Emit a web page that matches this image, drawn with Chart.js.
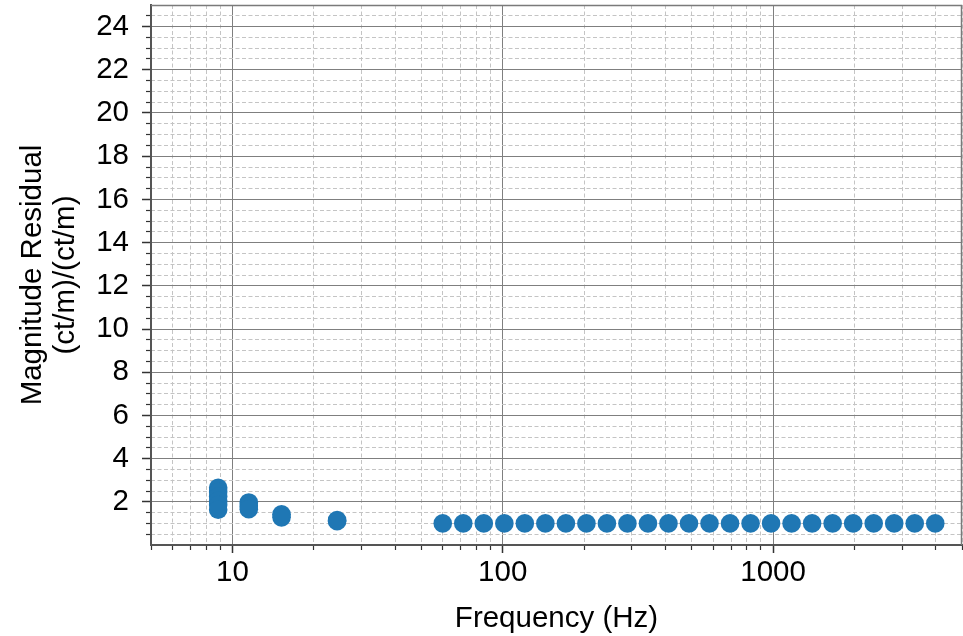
<!DOCTYPE html>
<html><head><meta charset="utf-8">
<script src="https://cdn.jsdelivr.net/npm/chart.js@4.4.1/dist/chart.umd.min.js"></script>
<style>html,body{margin:0;padding:0;background:#fff;overflow:hidden}</style>
</head><body>
<canvas id="c" width="963" height="636"></canvas>
<script>
// ---- data ----
const frequencies = [
  8.86, 8.86, 8.86, 8.86, 8.86, 8.86,
  11.5, 11.5, 11.5,
  15.2, 15.2,
  24.4, 24.4,
  60.0, 71.46, 85.11, 101.4, 120.7, 143.8, 171.3, 204.0, 242.9, 289.3, 344.6, 410.4,
  488.8, 582.1, 693.3, 825.7, 983.4, 1171.2, 1394.9, 1661.4, 1978.7, 2356.6, 2806.7, 3342.8, 3981.3
];
const residuals = [
  2.65, 2.45, 2.25, 2.05, 1.85, 1.63,
  1.97, 1.80, 1.66,
  1.42, 1.28,
  1.15, 1.10,
  1.0, 1.0, 1.0, 1.0, 1.0, 1.0, 1.0, 1.0, 1.0, 1.0, 1.0, 1.0,
  1.0, 1.0, 1.0, 1.0, 1.0, 1.0, 1.0, 1.0, 1.0, 1.0, 1.0, 1.0, 1.0
];
const xMajorTicks = [10, 100, 1000];
const xMinorTicks = [5, 6, 7, 8, 9, 20, 30, 40, 50, 60, 70, 80, 90,
  200, 300, 400, 500, 600, 700, 800, 900, 2000, 3000, 4000, 5000];
const yMajorTicks = [2, 4, 6, 8, 10, 12, 14, 16, 18, 20, 22, 24];
const yMinorTicks = [0.5, 1, 1.5, 2.5, 3, 3.5, 4.5, 5, 5.5, 6.5, 7, 7.5, 8.5, 9, 9.5,
  10.5, 11, 11.5, 12.5, 13, 13.5, 14.5, 15, 15.5, 16.5, 17, 17.5, 18.5, 19, 19.5,
  20.5, 21, 21.5, 22.5, 23, 23.5, 24.5];
const xTitle = 'Frequency (Hz)';
const yTitle = ['Magnitude Residual', '(ct/m)/(ct/m)'];

const FONT = '"Liberation Sans", Arial, Helvetica, sans-serif';
const points = frequencies.map((f, i) => ({x: f, y: residuals[i]}));

const frame = {
  id: 'frame',
  afterDraw(chart) {
    const {ctx, chartArea: a} = chart;
    ctx.save();
    ctx.strokeStyle = '#7a7a7a';
    ctx.lineWidth = 1.5;
    ctx.beginPath();
    ctx.moveTo(a.left, a.top + 0.5);
    ctx.lineTo(a.right - 0.5, a.top + 0.5);
    ctx.lineTo(a.right - 0.5, a.bottom);
    ctx.stroke();
    ctx.restore();
  }
};

new Chart(document.getElementById('c'), {
  type: 'scatter',
  data: {
    datasets: [{
      data: points,
      xAxisID: 'x', yAxisID: 'y',
      backgroundColor: '#1f77b4',
      borderColor: '#1f77b4',
      borderWidth: 0,
      pointRadius: 9.3,
      pointHoverRadius: 9.3
    }]
  },
  options: {
    responsive: false,
    animation: false,
    devicePixelRatio: 1,
    layout: {autoPadding: false, padding: {left: 0, right: 1, top: 5, bottom: 0}},
    plugins: {legend: {display: false}, tooltip: {enabled: false}},
    scales: {
      x: {
        type: 'logarithmic', axis: 'x', position: 'bottom', min: 5, max: 5000, z: 1,
        afterBuildTicks: s => { s.ticks = xMajorTicks.map(v => ({value: v})); },
        afterFit: s => { s.height = 91; s.paddingLeft = 0; s.paddingRight = 0; },
        ticks: {autoSkip: false, maxRotation: 0, padding: 2, color: '#000',
          font: {family: FONT, size: 29.5, lineHeight: 1.2}, callback: v => String(v)},
        grid: {color: '#7f7f7f', lineWidth: 1, tickLength: 8, tickColor: '#333', tickWidth: 1.5},
        border: {display: true, color: '#555', width: 2},
        title: {display: true, text: xTitle, color: '#000',
          font: {family: FONT, size: 29.5, lineHeight: 1.15}, padding: {top: 0, bottom: 0}}
      },
      xm: {
        type: 'logarithmic', axis: 'x', position: {y: 0}, min: 5, max: 5000, z: 1,
        afterBuildTicks: s => { s.ticks = xMinorTicks.map(v => ({value: v})); },
        afterFit: s => { s.height = 0; s.paddingLeft = 0; s.paddingRight = 0; },
        ticks: {display: false, autoSkip: false},
        grid: {color: '#c4c4c4', lineWidth: 1, tickLength: 5, tickColor: '#333', tickWidth: 1.2},
        border: {display: false, dash: [4, 2.5]}
      },
      y: {
        type: 'linear', axis: 'y', position: 'left', min: 0, max: 25, z: 1,
        afterBuildTicks: s => { s.ticks = yMajorTicks.map(v => ({value: v})); },
        afterFit: s => { s.width = 151; s.paddingTop = 0; s.paddingBottom = 0; },
        ticks: {autoSkip: false, padding: 13, color: '#000',
          font: {family: FONT, size: 29.5, lineHeight: 1.2}},
        grid: {color: '#7f7f7f', lineWidth: 1, tickLength: 9, tickColor: '#333', tickWidth: 1.5},
        border: {display: true, color: '#555', width: 2},
        title: {display: true, text: yTitle, color: '#000',
          font: {family: FONT, size: 29.5, lineHeight: 1.13}, padding: {top: 16, bottom: 0}}
      },
      ym: {
        type: 'linear', axis: 'y', position: {x: 5}, min: 0, max: 25, z: 1,
        afterBuildTicks: s => { s.ticks = yMinorTicks.map(v => ({value: v})); },
        afterFit: s => { s.width = 0; s.paddingTop = 0; s.paddingBottom = 0; },
        ticks: {display: false, autoSkip: false},
        grid: {color: '#c4c4c4', lineWidth: 1, tickLength: 5, tickColor: '#333', tickWidth: 1.2},
        border: {display: false, dash: [4, 2.5]}
      }
    }
  },
  plugins: [frame]
});
</script>
</body></html>
